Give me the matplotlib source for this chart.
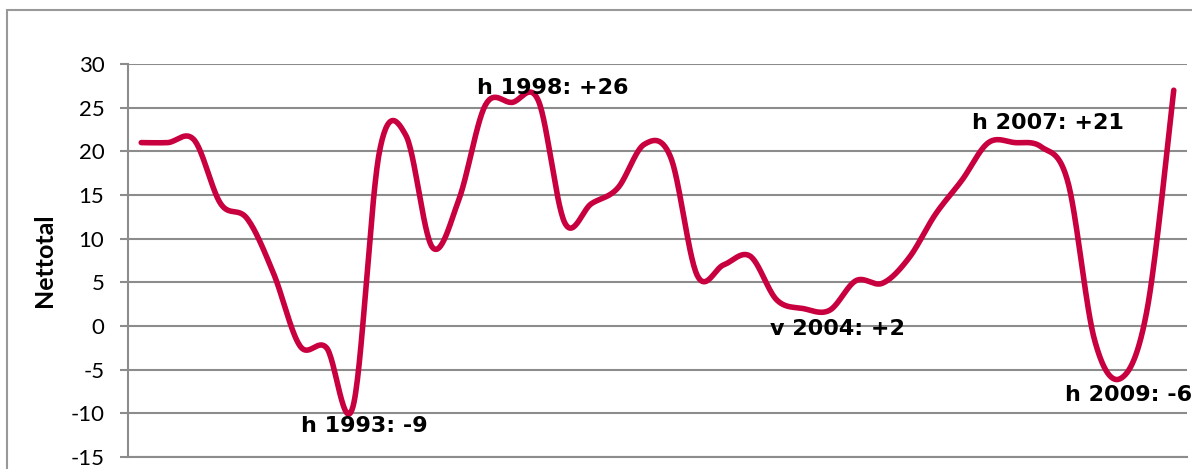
import numpy as np
import matplotlib
matplotlib.use("Agg")
import matplotlib.pyplot as plt
from matplotlib.patches import Rectangle

# ---- data ----
values = [21, 21, 21.3, 14, 12.3, 6, -2.3, -2.5, -9.2, 20,
          21.8, 9.0, 14.5, 25.3, 25.6, 25.8, 11.8, 14, 15.8, 20.8,
          19.3, 5.8, 7, 8, 3, 2, 1.8, 5.2, 4.9, 7.8,
          12.8, 16.7, 21, 21, 20.5, 16.5, -1.5, -6.0, 2, 27]
label_index = [8, 15, 26, 32, 37]
label_texts = ["h 1993: -9", "h 1998: +26", "v 2004: +2", "h 2007: +21", "h 2009: -6"]
label_offsets = [(11, -20), (14, 13), (8, -19), (59, 20), (8, -17)]  # pixels
y_ticks = [-15, -10, -5, 0, 5, 10, 15, 20, 25, 30]
ylabel = "Nettotal"

line_color = "#C8003F"
grid_color = "#8c8c8c"

# ---- smoothing (Excel-like cardinal bezier) ----
def smooth(y, n=30):
    x = np.arange(len(y), dtype=float)
    y = np.asarray(y, dtype=float)
    px = np.concatenate([[x[0]], x, [x[-1]]])
    py = np.concatenate([[y[0]], y, [y[-1]]])
    xs, ys = [], []
    t = np.linspace(0, 1, n, endpoint=False)
    for i in range(1, len(px) - 2):
        p0 = np.array([px[i - 1], py[i - 1]]); p1 = np.array([px[i], py[i]])
        p2 = np.array([px[i + 1], py[i + 1]]); p3 = np.array([px[i + 2], py[i + 2]])
        c1 = p1 + (p2 - p0) / 6.0
        c2 = p2 - (p3 - p1) / 6.0
        b = ((1 - t) ** 3)[:, None] * p1 + (3 * (1 - t) ** 2 * t)[:, None] * c1 \
            + (3 * (1 - t) * t ** 2)[:, None] * c2 + (t ** 3)[:, None] * p2
        xs.append(b[:, 0]); ys.append(b[:, 1])
    xs.append([x[-1]]); ys.append([y[-1]])
    return np.concatenate(xs), np.concatenate(ys)

W, H = 1192, 469
fig = plt.figure(figsize=(W / 100, H / 100), dpi=100)
ax = fig.add_axes([128 / W, 12 / H, (1187 - 128) / W, (457 - 64) / H])

sx, sy = smooth(values)
ax.plot(sx, sy, color=line_color, lw=4.0, solid_capstyle="round", zorder=3, clip_on=False)

ax.set_xlim(-0.5, len(values) - 0.5)
ax.set_ylim(-15, 30)
ax.set_yticks(y_ticks)
ax.set_yticklabels([str(v) for v in y_ticks], fontfamily="Lato", fontsize=16)
ax.set_xticks([])
ax.yaxis.grid(True, color=grid_color, lw=1.5)
ax.set_axisbelow(True)
ax.tick_params(axis="y", length=6, width=1.5, color=grid_color, pad=11)
for s in ["top", "right"]:
    ax.spines[s].set_visible(False)
ax.spines["left"].set_color(grid_color)
ax.spines["left"].set_linewidth(1.5)
ax.spines["bottom"].set_color(grid_color)
ax.spines["bottom"].set_linewidth(1.5)

ax.set_ylabel(ylabel, fontfamily="Lato", fontweight="bold", fontsize=18, labelpad=10)

for idx, txt, off in zip(label_index, label_texts, label_offsets):
    ax.annotate(txt, xy=(idx, values[idx]), xytext=off, textcoords="offset pixels",
                ha="center", va="center", fontsize=16, fontweight="bold",
                fontfamily="DejaVu Sans", color="black", zorder=4, annotation_clip=False)

# outer frame
fig.patches.append(Rectangle((7.5 / W, -0.1), 1.2, 1.1 - 10 / H, transform=fig.transFigure,
                             fill=False, edgecolor="#999999", lw=1.5))

fig.savefig("out.png", dpi=100)
